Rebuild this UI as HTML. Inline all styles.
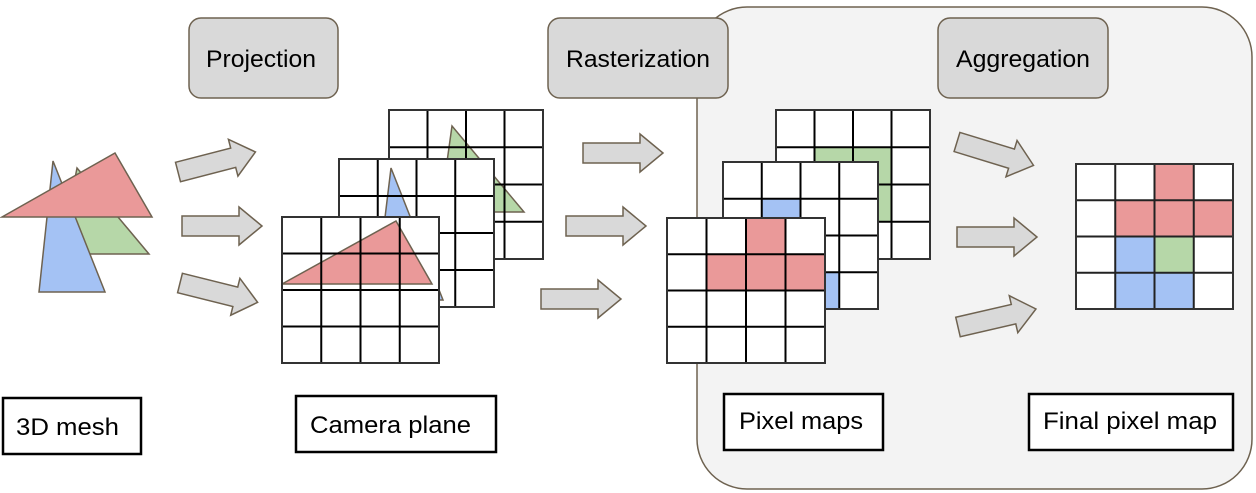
<!DOCTYPE html>
<html><head><meta charset="utf-8"><style>
html,body{margin:0;padding:0;background:#fff;}
svg{display:block;}
text{font-family:"Liberation Sans",sans-serif;}
</style></head><body>
<svg width="1256" height="493" viewBox="0 0 1256 493" xmlns="http://www.w3.org/2000/svg">
<defs>
<path id="arr" d="M0,-10 L57,-10 L57,-19 L80,0 L57,19 L57,10 L0,10 Z" fill="#d9d9d9" stroke="#6e6250" stroke-width="1.5"/>
</defs>
<rect x="697" y="7" width="555" height="482" rx="50" fill="#f3f3f3" stroke="#6e6250" stroke-width="1.5"/>
<rect x="189" y="18" width="149" height="80" rx="12" fill="#d9d9d9" stroke="#6e6250" stroke-width="1.5"/>
<text x="206" y="67" font-size="24" textLength="110" lengthAdjust="spacingAndGlyphs" fill="#000">Projection</text>
<rect x="548" y="18" width="180" height="80" rx="12" fill="#d9d9d9" stroke="#6e6250" stroke-width="1.5"/>
<text x="566" y="67" font-size="24" textLength="144" lengthAdjust="spacingAndGlyphs" fill="#000">Rasterization</text>
<rect x="938" y="18" width="170" height="80" rx="12" fill="#d9d9d9" stroke="#6e6250" stroke-width="1.5"/>
<text x="956" y="67" font-size="24" textLength="134" lengthAdjust="spacingAndGlyphs" fill="#000">Aggregation</text>
<g stroke="#6e6250" stroke-width="1.5">
<polygon points="77,168 149,254 60,254" fill="#b6d7a8"/>
<polygon points="53,161 39,292 105,292" fill="#a4c2f4"/>
<polygon points="2,217 115,153 152,217" fill="#ea9999"/>
</g>
<use href="#arr" transform="translate(178,172) rotate(-14.5)"/>
<use href="#arr" transform="translate(182,226)"/>
<use href="#arr" transform="translate(180,283) rotate(14)"/>
<use href="#arr" transform="translate(583,153)"/>
<use href="#arr" transform="translate(566,226)"/>
<use href="#arr" transform="translate(541,299)"/>
<use href="#arr" transform="translate(957,142) rotate(17)"/>
<use href="#arr" transform="translate(957,237)"/>
<use href="#arr" transform="translate(958,327) rotate(-13)"/>

<rect x="389" y="110" width="154" height="149" fill="#fff"/>
<polygon points="452,126 524,212 440,212" fill="#b6d7a8" stroke="#6e6250" stroke-width="1.5"/>
<g stroke="#000" stroke-width="2"><path d="M427.5,110V259M466,110V259M504.5,110V259M389,147.25H543M389,184.5H543M389,221.75H543"/></g>
<rect x="389" y="110" width="154" height="149" fill="none" stroke="#333" stroke-width="2"/>
<rect x="339" y="159" width="155" height="148" fill="#fff"/>
<polygon points="391,168 375,300 443,300" fill="#a4c2f4" stroke="#6e6250" stroke-width="1.5"/>
<g stroke="#000" stroke-width="2"><path d="M377.75,159V307M416.5,159V307M455.25,159V307M339,196H494M339,233H494M339,270H494"/></g>
<rect x="339" y="159" width="155" height="148" fill="none" stroke="#333" stroke-width="2"/>
<rect x="282" y="217" width="157" height="146" fill="#fff"/>
<polygon points="282,284 396,221 432,284" fill="#ea9999" stroke="#6e6250" stroke-width="1.5"/>
<g stroke="#000" stroke-width="2"><path d="M321.25,217V363M360.5,217V363M399.75,217V363M282,253.5H439M282,290H439M282,326.5H439"/></g>
<rect x="282" y="217" width="157" height="146" fill="none" stroke="#333" stroke-width="2"/>

<rect x="776" y="110" width="154" height="149" fill="#fff"/>
<g fill="#b6d7a8"><rect x="814.5" y="147.25" width="77" height="37.25"/><rect x="853" y="184.5" width="38.5" height="37.25"/></g>
<g stroke="#000" stroke-width="2"><path d="M814.5,110V259M853,110V259M891.5,110V259M776,147.25H930M776,184.5H930M776,221.75H930"/></g>
<rect x="776" y="110" width="154" height="149" fill="none" stroke="#333" stroke-width="2"/>
<rect x="723" y="162" width="155" height="147" fill="#fff"/>
<g fill="#a4c2f4"><rect x="761.75" y="198.75" width="38.75" height="110.25"/><rect x="800.5" y="272.25" width="38.75" height="36.75"/></g>
<g stroke="#000" stroke-width="2"><path d="M761.75,162V309M800.5,162V309M839.25,162V309M723,198.75H878M723,235.5H878M723,272.25H878"/></g>
<rect x="723" y="162" width="155" height="147" fill="none" stroke="#333" stroke-width="2"/>
<rect x="667" y="218" width="158" height="145" fill="#fff"/>
<g fill="#ea9999"><rect x="746" y="218" width="39.5" height="36.25"/><rect x="706.5" y="254.25" width="118.5" height="36.25"/></g>
<g stroke="#000" stroke-width="2"><path d="M706.5,218V363M746,218V363M785.5,218V363M667,254.25H825M667,290.5H825M667,326.75H825"/></g>
<rect x="667" y="218" width="158" height="145" fill="none" stroke="#333" stroke-width="2"/>
<rect x="1076" y="164" width="157" height="145" fill="#fff"/>
<g fill="#ea9999"><rect x="1154.5" y="164" width="39.25" height="36.25"/><rect x="1115.25" y="200.25" width="117.75" height="36.25"/></g>
<g fill="#a4c2f4"><rect x="1115.25" y="236.5" width="39.25" height="72.5"/><rect x="1154.5" y="272.75" width="39.25" height="36.25"/></g>
<rect x="1154.5" y="236.5" width="39.25" height="36.25" fill="#b6d7a8"/>
<g stroke="#222" stroke-width="2"><path d="M1115.25,164V309M1154.5,164V309M1193.75,164V309M1076,200.25H1233M1076,236.5H1233M1076,272.75H1233"/></g>
<rect x="1076" y="164" width="157" height="145" fill="none" stroke="#333" stroke-width="2"/>

<g fill="#fff" stroke="#000" stroke-width="2.5">
<rect x="3" y="398" width="138" height="56"/>
<rect x="296" y="396" width="200" height="56"/>
<rect x="724" y="394" width="159" height="56"/>
<rect x="1029" y="394" width="204" height="56"/>
</g>
<g font-size="24" fill="#000">
<text x="16" y="435" textLength="103" lengthAdjust="spacingAndGlyphs">3D mesh</text>
<text x="310" y="433" textLength="161" lengthAdjust="spacingAndGlyphs">Camera plane</text>
<text x="739" y="429" textLength="124" lengthAdjust="spacingAndGlyphs">Pixel maps</text>
<text x="1043" y="429" textLength="174" lengthAdjust="spacingAndGlyphs">Final pixel map</text>
</g>
</svg>
</body></html>
